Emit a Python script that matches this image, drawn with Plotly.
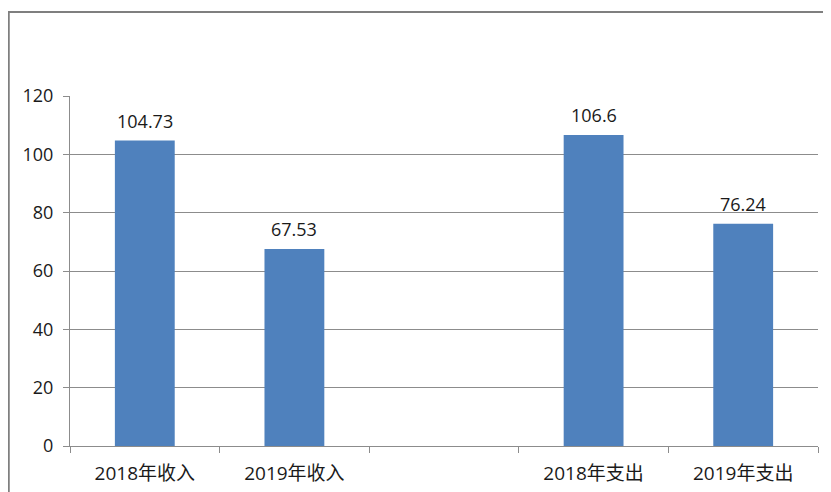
import plotly.graph_objects as go

categories = ["2018年收入", "2019年收入", " ", "2018年支出", "2019年支出"]
values = [104.73, 67.53, None, 106.6, 76.24]
labels = ["104.73", "67.53", "", "106.6", "76.24"]
y_ticks = [0, 20, 40, 60, 80, 100, 120]

FONT = "Open Sans, Liberation Sans, Noto Sans CJK SC, sans-serif"

fig = go.Figure()
fig.add_trace(go.Bar(
    x=categories, y=values,
    marker=dict(color="#4F81BD", line=dict(width=0)),
    width=0.4,
))
for c, v, t in zip(categories, values, labels):
    if v is not None:
        fig.add_annotation(x=c, y=v, text=t, showarrow=False, yanchor="bottom",
                           yshift=6, font=dict(family=FONT, size=18, color="#1a1a1a"))

grid = "#8c8c8c"
W, H = 823, 484
L, T = 62, 88
PW, PH = 748, 350
fig.update_layout(
    width=W, height=H,
    margin=dict(l=L, r=W - L - PW, t=T, b=H - T - PH, autoexpand=False),
    paper_bgcolor="white", plot_bgcolor="white",
    showlegend=False, bargap=0.6,
    font=dict(family=FONT, size=18, color="#1a1a1a"),
    xaxis=dict(type="category", showline=True, linecolor=grid, linewidth=1,
               ticks="outside", ticklen=6, tickcolor=grid, tickson="boundaries",
               showgrid=False, tickfont=dict(size=19), ticklabelstandoff=10),
    yaxis=dict(range=[0, 120], tickvals=y_ticks, showline=True, linecolor=grid, linewidth=1,
               ticks="outside", ticklen=6, tickcolor=grid, showgrid=True, gridcolor=grid,
               gridwidth=1, zeroline=False, tickfont=dict(size=18), ticklabelstandoff=6),
    shapes=[dict(type="rect", xref="paper", yref="paper",
                 x0=(0 - L) / PW + 0.001, x1=1.2, y0=-0.3, y1=1 + (T - 4) / PH,
                 line=dict(color="#7f7f7f", width=2), layer="below")],
)
fig.write_html("out.html")
